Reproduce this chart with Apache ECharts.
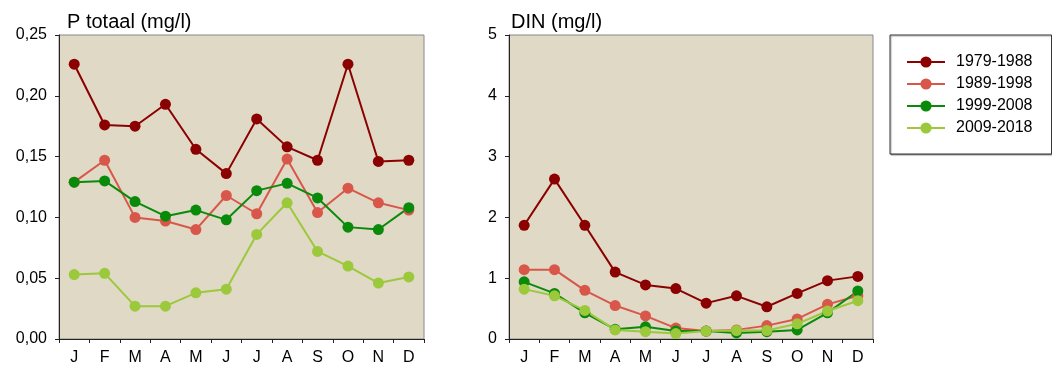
<!DOCTYPE html>
<html lang="nl">
<head>
    <meta charset="UTF-8">
    <title>P totaal en DIN</title>
    <script type="text/javascript" src="https://cdn.jsdelivr.net/npm/echarts@6/dist/echarts.min.js"></script>
    <style>
        html, body { margin: 0; padding: 0; background: #fff; }
    </style>
</head>
<body>
<div id="chart" style="width: 1052px;height:367px;"></div>

<script type="text/javascript">
    // maanden
    var months = ['J', 'F', 'M', 'A', 'M', 'J', 'J', 'A', 'S', 'O', 'N', 'D'];
    var periods = ['1979-1988', '1989-1998', '1999-2008', '2009-2018'];
    var colors = ['#8b0000', '#d9574a', '#0a8a0a', '#9cc83c'];

    // P totaal (mg/l)
    var pTot1979 = [0.226, 0.176, 0.175, 0.193, 0.156, 0.136, 0.181, 0.158, 0.147, 0.226, 0.146, 0.147];
    var pTot1989 = [0.129, 0.147, 0.100, 0.097, 0.090, 0.118, 0.103, 0.148, 0.104, 0.124, 0.112, 0.106];
    var pTot1999 = [0.129, 0.130, 0.113, 0.101, 0.106, 0.098, 0.122, 0.128, 0.116, 0.092, 0.090, 0.108];
    var pTot2009 = [0.053, 0.054, 0.027, 0.027, 0.038, 0.041, 0.086, 0.112, 0.072, 0.060, 0.046, 0.051];

    // DIN (mg/l)
    var din1979 = [1.87, 2.63, 1.87, 1.10, 0.89, 0.83, 0.59, 0.71, 0.53, 0.75, 0.96, 1.03];
    var din1989 = [1.14, 1.14, 0.80, 0.55, 0.38, 0.18, 0.13, 0.15, 0.22, 0.33, 0.57, 0.71];
    var din1999 = [0.94, 0.75, 0.43, 0.16, 0.20, 0.13, 0.13, 0.10, 0.12, 0.15, 0.43, 0.79];
    var din2009 = [0.82, 0.71, 0.47, 0.15, 0.12, 0.09, 0.13, 0.14, 0.14, 0.25, 0.46, 0.63];

    var pSeries = [pTot1979, pTot1989, pTot1999, pTot2009];
    var dinSeries = [din1979, din1989, din1999, din2009];

    var font = 'Liberation Sans, Arial, sans-serif';
    var myChart = echarts.init(document.getElementById('chart'), null, {renderer: 'canvas'});

    function xAxisFor(idx) {
        return {
            type: 'category',
            gridIndex: idx,
            data: months,
            boundaryGap: true,
            axisLine: {lineStyle: {color: '#222', width: 1}},
            axisTick: {show: true, length: 4, lineStyle: {color: '#222'}},
            axisLabel: {color: '#000', fontSize: 16, fontFamily: font, margin: 11}
        };
    }

    function yAxisFor(idx, max, interval, fmt) {
        return {
            type: 'value',
            gridIndex: idx,
            min: 0,
            max: max,
            interval: interval,
            axisLine: {show: true, lineStyle: {color: '#222', width: 1}},
            axisTick: {show: true, length: 4, lineStyle: {color: '#222'}},
            splitLine: {show: false},
            axisLabel: {color: '#000', fontSize: 16, fontFamily: font, margin: 12, formatter: fmt}
        };
    }

    var series = [];
    periods.forEach(function (name, i) {
        series.push({
            name: name, type: 'line', xAxisIndex: 0, yAxisIndex: 0,
            data: pSeries[i], symbol: 'circle', symbolSize: 11,
            lineStyle: {width: 2, color: colors[i]}, itemStyle: {color: colors[i]}
        });
    });
    periods.forEach(function (name, i) {
        series.push({
            name: name, type: 'line', xAxisIndex: 1, yAxisIndex: 1,
            data: dinSeries[i], symbol: 'circle', symbolSize: 11,
            lineStyle: {width: 2, color: colors[i]}, itemStyle: {color: colors[i]}
        });
    });

    myChart.setOption({
        animation: false,
        title: [
            {text: 'P totaal (mg/l)', left: 62, top: 7,
                textStyle: {fontSize: 20, fontWeight: 'normal', color: '#000', fontFamily: font}},
            {text: 'DIN (mg/l)', left: 506, top: 7,
                textStyle: {fontSize: 20, fontWeight: 'normal', color: '#000', fontFamily: font}}
        ],
        legend: {
            data: periods,
            orient: 'vertical',
            left: 890,
            top: 35,
            padding: [19, 19, 18, 16],
            itemWidth: 38,
            itemHeight: 14,
            itemGap: 6,
            borderColor: '#333',
            borderWidth: 1,
            borderRadius: 0,
            shadowColor: 'rgba(0,0,0,0.35)',
            shadowOffsetX: 1,
            shadowOffsetY: 1,
            shadowBlur: 1,
            backgroundColor: '#fff',
            textStyle: {fontSize: 16, color: '#000', fontFamily: font, padding: [0, 0, 0, 6]}
        },
        grid: [
            {left: 59, top: 35, width: 365, height: 304, show: true,
                backgroundColor: '#dfd9c5', borderColor: '#888', borderWidth: 1},
            {left: 509, top: 35, width: 364, height: 304, show: true,
                backgroundColor: '#dfd9c5', borderColor: '#888', borderWidth: 1}
        ],
        xAxis: [xAxisFor(0), xAxisFor(1)],
        yAxis: [
            yAxisFor(0, 0.25, 0.05, function (v) { return v.toFixed(2).replace('.', ','); }),
            yAxisFor(1, 5, 1, function (v) { return String(v); })
        ],
        series: series
    });
</script>
</body>
</html>
